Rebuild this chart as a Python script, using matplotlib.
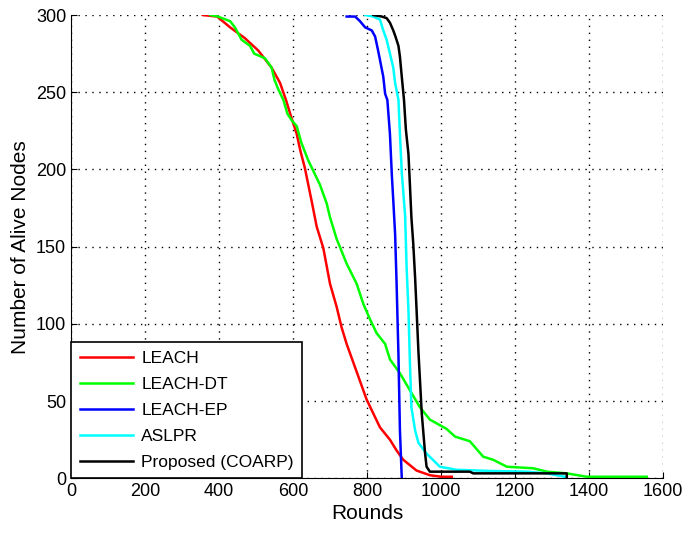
import matplotlib.pyplot as plt

plt.rcParams['font.family'] = ['Liberation Sans', 'DejaVu Sans']

# 라운드별 생존 노드 수
leach_x = [356, 395, 430, 470, 506, 542, 565, 581, 595, 610, 620, 632, 650, 664, 682, 700, 718, 731, 745, 763, 799, 835, 862, 880, 898, 934, 970, 1000, 1029]
leach_y = [300, 299, 292, 285, 277, 266, 256, 245, 234, 223, 212, 201, 180, 163, 149, 126, 111, 98, 87, 75, 51, 33, 25, 18, 12, 5, 2, 1, 1]

dt_x = [376, 397, 430, 443, 461, 484, 495, 524, 542, 550, 560, 574, 585, 596, 610, 623, 641, 655, 673, 691, 700, 718, 745, 772, 790, 808, 826, 849, 862, 889, 916, 943, 970, 1015, 1038, 1078, 1114, 1141, 1178, 1249, 1286, 1340, 1394, 1556]
dt_y = [300, 299, 296, 292, 284, 280, 275, 272, 266, 258, 252, 245, 236, 232, 228, 217, 206, 199, 190, 178, 169, 155, 139, 126, 113, 103, 94, 87, 77, 68, 57, 46, 38, 32, 27, 24, 14, 12, 7.5, 6.5, 4.3, 3.2, 1, 1]

ep_x = [745, 768, 781, 795, 813, 822, 830, 835, 844, 849, 855, 862, 867, 871, 876, 880, 885, 889, 894]
ep_y = [299, 299, 296, 292, 290, 286, 277, 271, 260, 249, 245, 223, 197, 180, 158, 126, 80, 31, 0]

aslpr_x = [795, 817, 835, 844, 853, 862, 871, 876, 885, 889, 894, 903, 907, 912, 916, 920, 930, 939, 961, 997, 1042, 1141, 1232, 1286, 1313, 1335, 1335]
aslpr_y = [300, 299, 297, 290, 284, 275, 266, 256, 245, 223, 198, 170, 137, 109, 75, 46, 31, 23, 16, 7.5, 5.5, 4.7, 4.3, 3.2, 2, 1, 0]

coarp_x = [817, 840, 853, 862, 871, 877, 885, 889, 894, 900, 905, 912, 916, 920, 925, 930, 934, 939, 948, 957, 961, 970, 1078, 1087, 1340, 1340]
coarp_y = [300, 299, 298, 295, 290, 286, 280, 273, 260, 245, 226, 210, 190, 169, 152, 130, 109, 82, 42, 16, 7.5, 4.3, 4.3, 3.2, 3.2, 0]

fig = plt.figure(figsize=(6.84, 5.34), dpi=100)
ax = fig.add_axes([0.1038, 0.1043, 0.8655, 0.8676])

ax.plot(leach_x, leach_y, color='#ff0000', lw=1.8, label='LEACH')
ax.plot(dt_x, dt_y, color='#00ff00', lw=1.8, label='LEACH-DT')
ax.plot(ep_x, ep_y, color='#0000ff', lw=1.8, label='LEACH-EP')
ax.plot(aslpr_x, aslpr_y, color='#00ffff', lw=1.8, label='ASLPR')
ax.plot(coarp_x, coarp_y, color='black', lw=1.8, label='Proposed (COARP)')

ax.set_xlim(0, 1600)
ax.set_ylim(0, 300)
ax.set_xticks(range(0, 1601, 200))
ax.set_yticks(range(0, 301, 50))
ax.grid(True, color='black', linestyle=(0, (1, 4)), lw=1)
ax.tick_params(direction='in', labelsize=13, length=4)
ax.spines['top'].set_visible(False)
ax.spines['right'].set_visible(False)  # MATLAB box off 느낌

ax.set_xlabel('Rounds', fontsize=15, labelpad=3)
ax.set_ylabel('Number of Alive Nodes', fontsize=15, labelpad=4)

leg = ax.legend(loc='lower left', fontsize=12.5, fancybox=False, framealpha=1,
                edgecolor='black', borderaxespad=0, handlelength=3.1,
                handletextpad=0.45, labelspacing=0.62, borderpad=0.5)
leg.get_frame().set_linewidth(1.2)

plt.savefig('out.png')
